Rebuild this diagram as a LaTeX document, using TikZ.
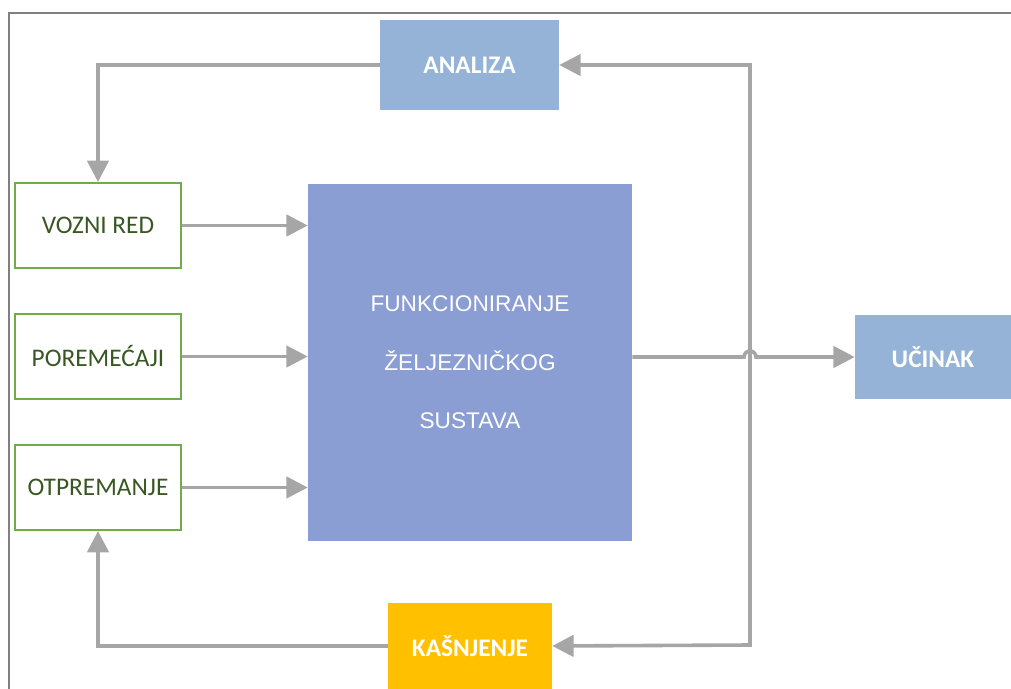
\documentclass[tikz,border=0pt]{standalone}
\usepackage{fontspec}
\setmainfont{Carlito}
\newfontfamily\arialfont{Liberation Sans}
\usepackage{xcolor}
\usetikzlibrary{arrows.meta, positioning, calc}

\definecolor{boxblue}{RGB}{149,179,215}
\definecolor{mainblue}{RGB}{139,158,211}
\definecolor{delayorange}{RGB}{255,192,0}
\definecolor{inputgreen}{RGB}{112,173,71}
\definecolor{textgreen}{RGB}{56,87,35}
\definecolor{linegray}{RGB}{166,166,166}
\definecolor{framegray}{RGB}{128,128,128}

\begin{document}
\begin{tikzpicture}[x=0.75pt, y=-0.75pt, >={Triangle[length=16pt, width=16pt]}]
    % Define styles
    \tikzstyle{input} = [rectangle, minimum width=124.5pt, minimum height=63.75pt, inner sep=0pt, draw=inputgreen, line width=1.5pt, fill=white, text=textgreen, font=\fontsize{19}{22}\selectfont]
    \tikzstyle{result} = [rectangle, inner sep=0pt, fill=boxblue, text=white, font=\bfseries\fontsize{19}{22}\selectfont]
    \tikzstyle{arrow} = [line width=2.7pt, draw=linegray, ->]

    \useasboundingbox (0,0) rectangle (1011,689);
    \draw [framegray, line width=1.5pt] (1015,13) -- (9,13) -- (9,693);

    % Main block
    \node (sustav) [rectangle, fill=mainblue, minimum width=243pt, minimum height=267.75pt, text=white, align=center, font=\arialfont\fontsize{17}{44}\selectfont] at (470,362.5) {FUNKCIONIRANJE\\ŽELJEZNIČKOG\\SUSTAVA};

    % Inputs
    \node (vozni) [input] at (98,225.5) {VOZNI RED};
    \node (poremecaji) [input, below=33pt of vozni] {POREMEĆAJI};
    \node (otpremanje) [input, below=33pt of poremecaji] {OTPREMANJE};

    % Analysis, output and delay
    \node (analiza) [result, minimum width=134.25pt, minimum height=67.5pt] at (469.5,65) {ANALIZA};
    \node (ucinak) [result, minimum width=117pt, minimum height=63pt] at (933,357) {UČINAK};
    \node (kasnjenje) [result, fill=delayorange, minimum width=123pt, minimum height=64.5pt] at (470,646) {KAŠNJENJE};
    \coordinate (fbbot) at (750,645);

    % Arrows
    \draw [arrow] (vozni.east) -- (vozni.east -| sustav.west);
    \draw [arrow] (poremecaji.east) -- (poremecaji.east -| sustav.west);
    \draw [arrow] (otpremanje.east) -- (otpremanje.east -| sustav.west);
    \draw [arrow] (ucinak.west -| sustav.east) -- ($(ucinak.west -| fbbot)+(-6,0)$) arc[start angle=180, end angle=0, radius=4.5pt] -- (ucinak.west);
    \draw [arrow, <->] (analiza.east) -| (fbbot) -- (kasnjenje.east);
    \draw [arrow] (analiza.west) -| (vozni.north);
    \draw [arrow] (kasnjenje.west) -| (otpremanje.south);
\end{tikzpicture}
\end{document}
